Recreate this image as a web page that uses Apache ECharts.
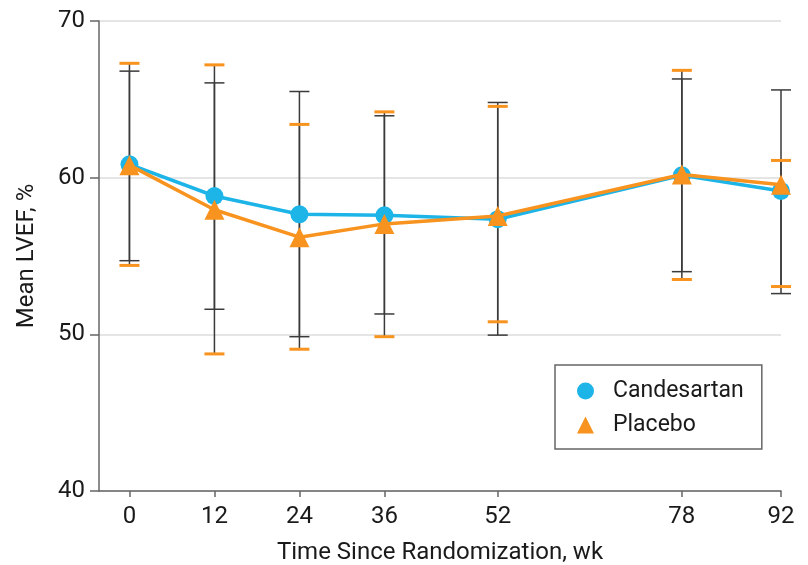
<!DOCTYPE html>
<html>
<head>
<meta charset="utf-8">
<script src="https://cdn.jsdelivr.net/npm/echarts@6/dist/echarts.min.js"></script>
<style>html,body{margin:0;padding:0;background:#fff}#c{width:808px;height:565px}</style>
</head>
<body>
<div id="c"></div>
<script>
var weeks = [0, 12, 24, 36, 52, 78, 92];
var candMean = [60.85, 58.83, 57.66, 57.6, 57.35, 60.15, 59.15];
var candLow  = [54.7, 51.6, 49.85, 51.3, 49.95, 54.0, 52.6];
var candHigh = [66.8, 66.05, 65.5, 63.95, 64.8, 66.3, 65.6];
var placMean = [60.8, 57.95, 56.2, 57.05, 57.55, 60.2, 59.55];
var placLow  = [54.4, 48.75, 49.05, 49.85, 50.8, 53.5, 53.05];
var placHigh = [67.3, 67.2, 63.4, 64.2, 64.55, 66.85, 61.1];
var xTicks = [0, 12, 24, 36, 52, 78, 92];
var yMin = 40, yMax = 70, yStep = 10;

var FONT = 'Roboto';
var TXT = '#1a1a1a';
var CAND = '#1db4e8', PLAC = '#f7931e', BAR = '#3a3a3a';

function errData(lo, hi) {
  return weeks.map(function (w, i) { return [w, lo[i], hi[i]]; });
}
function errSeries(name, lo, hi, capColor, capWidth) {
  return {
    type: 'custom', name: name + ' CI', silent: true, z: 1,
    data: errData(lo, hi),
    encode: { x: 0, y: [1, 2] },
    renderItem: function (params, api) {
      var x = api.value(0);
      var a = api.coord([x, api.value(1)]);
      var b = api.coord([x, api.value(2)]);
      var hw = 10;
      return {
        type: 'group',
        children: [
          { type: 'line', shape: { x1: a[0], y1: a[1], x2: b[0], y2: b[1] }, style: { stroke: BAR, lineWidth: 1.5 } },
          { type: 'line', shape: { x1: a[0] - hw, y1: a[1], x2: a[0] + hw, y2: a[1] }, style: { stroke: capColor, lineWidth: capWidth } },
          { type: 'line', shape: { x1: b[0] - hw, y1: b[1], x2: b[0] + hw, y2: b[1] }, style: { stroke: capColor, lineWidth: capWidth } }
        ]
      };
    }
  };
}

var chart = echarts.init(document.getElementById('c'), null, { renderer: 'canvas' });
chart.setOption({
  animation: false,
  backgroundColor: '#fff',
  textStyle: { fontFamily: FONT },
  grid: { left: 99, right: 27, top: 21, bottom: 74, containLabel: false, outerBoundsMode: 'none' },
  xAxis: {
    type: 'value', min: -4.3, max: 92,
    name: 'Time Since Randomization, wk', nameLocation: 'middle', nameGap: 50,
    nameTextStyle: { fontSize: 24, color: TXT, fontFamily: FONT },
    axisLine: { show: true, onZero: false, lineStyle: { color: '#666', width: 1.5 } },
    axisTick: { show: true, customValues: xTicks, length: 6, lineStyle: { color: '#666', width: 1.5 } },
    axisLabel: { customValues: xTicks, fontSize: 24, color: TXT, margin: 14, fontFamily: FONT },
    splitLine: { show: false }
  },
  yAxis: {
    type: 'value', min: yMin, max: yMax, interval: yStep,
    name: 'Mean LVEF, %', nameLocation: 'middle', nameGap: 60,
    nameTextStyle: { fontSize: 24, color: TXT, fontFamily: FONT },
    axisLine: { show: true, onZero: false, lineStyle: { color: '#666', width: 1.5 } },
    axisTick: { show: true, length: 9, lineStyle: { color: '#666', width: 1.5 } },
    axisLabel: { fontSize: 24, color: TXT, margin: 14, fontFamily: FONT },
    splitLine: { show: true, lineStyle: { color: '#dcdcdc', width: 1.5 } }
  },
  legend: {
    orient: 'vertical', left: 555, top: 365,
    padding: [14, 18, 12, 22],
    borderColor: '#666', borderWidth: 1.5,
    itemWidth: 17, itemHeight: 17, itemGap: 10,
    textStyle: { fontSize: 23, color: TXT, lineHeight: 24, padding: [0, 0, 0, 14], fontFamily: FONT },
    data: [{ name: 'Candesartan', icon: 'circle' }, { name: 'Placebo', icon: 'triangle' }]
  },
  series: [
    errSeries('Candesartan', candLow, candHigh, BAR, 1.5),
    errSeries('Placebo', placLow, placHigh, PLAC, 3),
    {
      type: 'line', name: 'Candesartan', z: 3,
      data: weeks.map(function (w, i) { return [w, candMean[i]]; }),
      symbol: 'circle', symbolSize: 18, showAllSymbol: true,
      lineStyle: { color: CAND, width: 3.5 }, itemStyle: { color: CAND, borderWidth: 0 }
    },
    {
      type: 'line', name: 'Placebo', z: 4,
      data: weeks.map(function (w, i) { return [w, placMean[i]]; }),
      symbol: 'triangle', symbolSize: 20, showAllSymbol: true,
      lineStyle: { color: PLAC, width: 3.5 }, itemStyle: { color: PLAC, borderWidth: 0 }
    }
  ]
});
</script>
</body>
</html>
